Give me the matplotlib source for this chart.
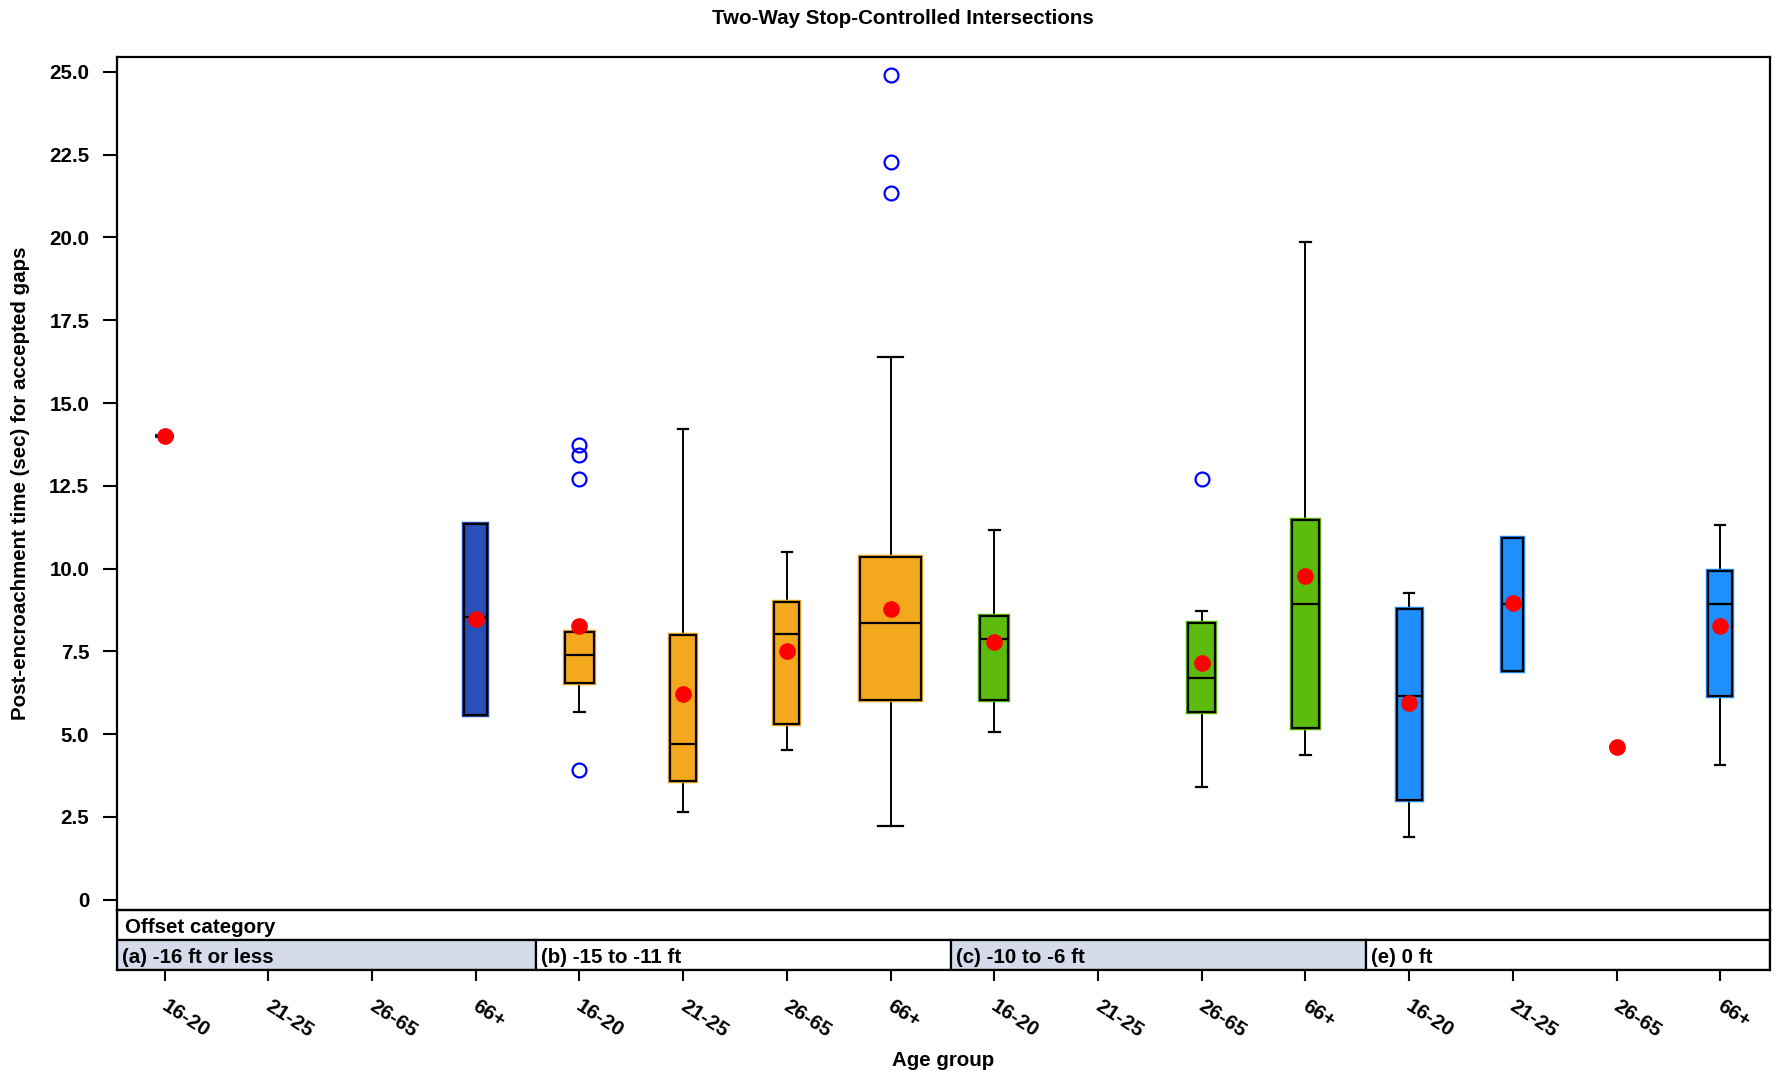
import matplotlib
matplotlib.use('Agg')
import matplotlib.pyplot as plt
from matplotlib.patches import Rectangle, PathPatch
from matplotlib.transforms import ScaledTranslation

plt.rcParams['font.family'] = ['Liberation Sans', 'DejaVu Sans']
plt.rcParams['font.weight'] = 'bold'

# ---------------- data ----------------
title = "Two-Way Stop-Controlled Intersections"
ylabel = "Post-encroachment time (sec) for accepted gaps"
xlabel = "Age group"
strip_title = "Offset category"
offset_cats = ["(a) -16 ft or less", "(b) -15 to -11 ft", "(c) -10 to -6 ft", "(e) 0 ft"]
age_groups = ["16-20", "21-25", "26-65", "66+"]
ytick_labels = ["0", "2.5", "5.0", "7.5", "10.0", "12.5", "15.0", "17.5", "20.0", "22.5", "25.0"]

# 16 boxes: offsets (a,b,c,e) x ages (16-20,21-25,26-65,66+); None = no data
whislo = [14.0, None, None, 5.58, 5.68, 2.64, 4.52, 2.22, 5.06, None, 3.41, 4.37, 1.90, 6.91, 4.60, 4.06]
q1     = [14.0, None, None, 5.58, 6.56, 3.60, 5.32, 6.03, 6.03, None, 5.68, 5.20, 3.01, 6.91, 4.60, 6.16]
median = [14.0, None, None, 8.55, 7.39, 4.69, 8.01, 8.36, 7.88, None, 6.71, 8.92, 6.16, 8.92, 4.60, 8.92]
q3     = [14.0, None, None, 11.34, 8.09, 7.98, 8.99, 10.36, 8.58, None, 8.37, 11.46, 8.77, 10.91, 4.60, 9.93]
whishi = [14.0, None, None, 11.34, 8.09, 14.21, 10.50, 16.40, 11.17, None, 8.71, 19.86, 9.27, 10.91, 4.60, 11.31]
means  = [14.0, None, None, 8.48, 8.26, 6.20, 7.52, 8.77, 7.78, None, 7.16, 9.78, 5.93, 8.97, 4.60, 8.26]
outliers = [[], [], [], [], [13.72, 13.42, 12.70, 3.91], [], [], [24.90, 22.29, 21.34],
            [], [], [12.72], [], [], [], [], []]

# ---------------- styles ----------------
group_colors = ["#2750b8", "#f4a81d", "#5cbb0c", "#1f8ffe"]
box_widths = [0.18, 0, 0, 0.22, 0.28, 0.25, 0.24, 0.58, 0.27, 0, 0.26, 0.26, 0.24, 0.20, 0.15, 0.23]
strip_fill = ["#d5dbeb", "white", "#d5dbeb", "white"]
strip_bounds = [0.542, 4.58, 8.58, 12.58, 16.48]
FS = 14.8

W, H = 1779, 1073
fig = plt.figure(figsize=(W / 100, H / 100), dpi=100)
L, R = 117 / W, 1770 / W
main_bot, main_top = 1 - 910 / H, 1 - 57 / H
strip_bot = 1 - 970 / H
ax = fig.add_axes([L, main_bot, R - L, main_top - main_bot])
axs = fig.add_axes([L, strip_bot, R - L, main_bot - strip_bot], sharex=ax)

stats, pos, wid, cols = [], [], [], []
for i in range(16):
    if median[i] is None:
        continue
    stats.append(dict(med=median[i], q1=q1[i], q3=q3[i], whislo=whislo[i], whishi=whishi[i],
                      mean=means[i], fliers=outliers[i]))
    pos.append(i + 1)
    wid.append(box_widths[i])
    cols.append(group_colors[i // 4])

bp = ax.bxp(stats, positions=pos, widths=wid, capwidths=[0.4 * w for w in wid],
            patch_artist=True, showmeans=True,
            boxprops=dict(edgecolor='black', linewidth=1.6),
            medianprops=dict(color='black', linewidth=1.6),
            whiskerprops=dict(color='black', linewidth=1.4),
            capprops=dict(color='black', linewidth=1.6),
            flierprops=dict(marker='o', markerfacecolor='none', markeredgecolor='#0000ff',
                            markersize=10, markeredgewidth=1.6),
            meanprops=dict(marker='o', markerfacecolor='red', markeredgecolor='red',
                           markersize=11, zorder=6))
for patch, c in zip(bp['boxes'], cols):
    patch.set_facecolor(c)
    patch.set_zorder(3)
    halo = PathPatch(patch.get_path(), facecolor=c, edgecolor=c, linewidth=3.2, zorder=2.9)
    ax.add_patch(halo)
for m in bp['medians']:
    m.set_zorder(4)

ax.set_xlim(strip_bounds[0], strip_bounds[-1])
ax.set_ylim(-0.31, 25.45)
ax.set_yticks([2.5 * k for k in range(11)])
ax.set_yticklabels(ytick_labels, fontsize=FS, fontweight='bold')
ax.tick_params(axis='y', direction='out', length=10, width=1.5, pad=10)
ax.tick_params(axis='x', bottom=False, labelbottom=False)
for s in ax.spines.values():
    s.set_linewidth(1.6)

# strips
axs.set_ylim(0, 2)
axs.set_yticks([])
axs.add_patch(Rectangle((strip_bounds[0], 1), strip_bounds[-1] - strip_bounds[0], 1,
                        facecolor='white', edgecolor='black', linewidth=1.6))
axs.text(strip_bounds[0] + 0.08, 1.42, strip_title, fontsize=FS, fontweight='bold',
         ha='left', va='center')
for k in range(4):
    x0, x1 = strip_bounds[k], strip_bounds[k + 1]
    axs.add_patch(Rectangle((x0, 0), x1 - x0, 1, facecolor=strip_fill[k],
                            edgecolor='black', linewidth=1.6))
    axs.text(x0 + 0.05, 0.42, offset_cats[k], fontsize=FS, fontweight='bold',
             ha='left', va='center')
for s in axs.spines.values():
    s.set_linewidth(1.6)
axs.set_xticks(range(1, 17))
axs.set_xticklabels(age_groups * 4, fontsize=FS, fontweight='bold', rotation=-33,
                    ha='left', va='top', rotation_mode='anchor')
axs.tick_params(axis='x', direction='out', length=8, width=1.5, pad=11)
shift = ScaledTranslation(4 / 100, 0, fig.dpi_scale_trans)
for lab in axs.get_xticklabels():
    lab.set_transform(lab.get_transform() + shift)

fig.text(796 * 1.1346 / W, 1 - 19 / H, title, fontsize=FS, fontweight='bold',
         ha='center', va='center')
fig.text(21 / W, 1 - 483 / H, ylabel, fontsize=FS, fontweight='bold', rotation=90,
         ha='center', va='center')
fig.text((L + R) / 2, 1 - 1060 / H, xlabel, fontsize=FS, fontweight='bold',
         ha='center', va='center')

fig.savefig('out.png', dpi=100)
